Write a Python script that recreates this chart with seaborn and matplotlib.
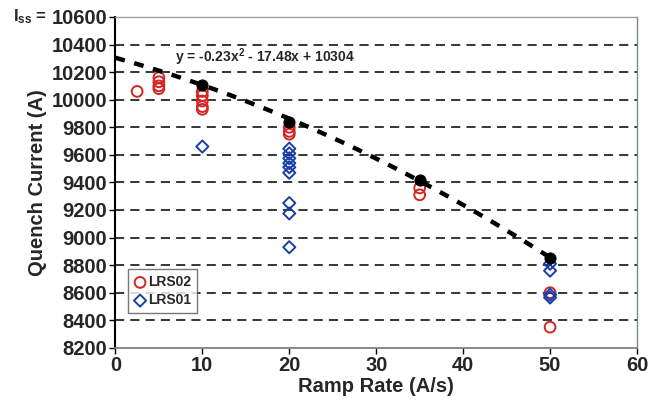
import numpy as np
import pandas as pd
import seaborn as sns
import matplotlib.pyplot as plt

# --- data ---
lrs02_x = [2.5, 5, 5, 5, 5, 10, 10, 10, 10, 10, 20, 20, 20, 35, 35, 50, 50]
lrs02_y = [10060, 10160, 10130, 10100, 10080, 10060, 10030, 9990, 9950, 9930,
           9800, 9770, 9750, 9360, 9310, 8600, 8350]

lrs01_x = [10, 20, 20, 20, 20, 20, 20, 20, 20, 20, 50, 50, 50, 50]
lrs01_y = [9660, 9645, 9610, 9575, 9540, 9510, 9470, 9250, 9175, 8930,
           8810, 8760, 8585, 8565]

iss_x = [10, 20, 35, 50]
iss_y = [10105, 9840, 9415, 8855]

# quadratic trendline coefficients (a, b, c) as printed on the chart
fit_coef = [-0.23, -17.48, 10304]
fit_range = [0, 50]

y_ticks = list(range(8200, 10601, 200))
x_ticks = list(range(0, 61, 10))

sns.set_style("white")
plt.rcParams['font.family'] = ['Liberation Sans', 'DejaVu Sans']
plt.rcParams['font.weight'] = 'bold'
plt.rcParams['mathtext.fontset'] = 'custom'
plt.rcParams['mathtext.rm'] = 'Liberation Sans:bold'
plt.rcParams['mathtext.it'] = 'Liberation Sans:bold'
plt.rcParams['mathtext.bf'] = 'Liberation Sans:bold'

df = pd.concat([
    pd.DataFrame({'rate': lrs02_x, 'current': lrs02_y, 'sample': 'LRS02'}),
    pd.DataFrame({'rate': lrs01_x, 'current': lrs01_y, 'sample': 'LRS01'}),
])

fig = plt.figure(figsize=(6.52, 4.04), dpi=100)
ax = fig.add_axes([0.177, 0.139, 0.800, 0.819])

# dashed horizontal grid
for yv in y_ticks[1:-1]:
    ax.axhline(yv, color='black', lw=1.1, ls=(0, (6, 4)), zorder=0)

red = '#d42424'
blue = '#1a3fa8'
sns.scatterplot(data=df[df['sample'] == 'LRS02'], x='rate', y='current',
                marker='o', s=60, facecolors='none', edgecolor=red,
                linewidth=1.4, ax=ax, zorder=3, label='LRS02')
sns.scatterplot(data=df[df['sample'] == 'LRS01'], x='rate', y='current',
                marker='D', s=38, facecolors='none', edgecolor=blue,
                linewidth=1.4, ax=ax, zorder=4, label='LRS01')

# trendline from the printed polynomial
xs = np.linspace(fit_range[0], fit_range[1], 200)
ax.plot(xs, np.polyval(fit_coef, xs), color='black', lw=3.2,
        ls=(0, (2.2, 2.2)), zorder=5)
sns.scatterplot(x=iss_x, y=iss_y, color='black', s=65, edgecolor='black',
                ax=ax, zorder=6, legend=False)

ax.text(6.8, 10305, r"y = -0.23x$^2$ - 17.48x + 10304", fontsize=10,
        fontweight='bold', ha='left', va='center', zorder=7)

ax.set_xlim(0, 60)
ax.set_ylim(8200, 10600)
ax.set_xticks(x_ticks)
ax.set_yticks(y_ticks)
ax.tick_params(axis='both', labelsize=14.5, direction='out', length=4,
               width=1, color='black', bottom=True, left=True)
ax.tick_params(axis='x', pad=2)
ax.tick_params(axis='y', pad=2)
for lab in ax.get_xticklabels() + ax.get_yticklabels():
    lab.set_fontweight('bold')

ax.set_xlabel('Ramp Rate (A/s)', fontsize=14.5, fontweight='bold', labelpad=1)
ax.set_ylabel('Quench Current (A)', fontsize=14.5, fontweight='bold', labelpad=3)

ax.spines['left'].set_color('black')
ax.spines['left'].set_linewidth(1.5)
ax.spines['bottom'].set_color('#808080')
ax.spines['bottom'].set_linewidth(1.3)
ax.spines['top'].set_color('#a0a0a0')
ax.spines['top'].set_linewidth(1.0)
ax.spines['right'].set_color('#7a8a8a')
ax.spines['right'].set_linewidth(1.0)

ax.text(-0.132, 1.0, r"I$_{\mathrm{ss}}$ =", transform=ax.transAxes,
        fontsize=12, fontweight='bold', ha='right', va='center')

leg = ax.legend(loc='lower left', bbox_to_anchor=(0.01, 0.085), fontsize=10,
                frameon=True, fancybox=False, handletextpad=0.1,
                handlelength=1.0, borderpad=0.4, labelspacing=0.3)
leg.get_frame().set_edgecolor('#555555')
leg.get_frame().set_linewidth(1.0)
for t in leg.get_texts():
    t.set_fontweight('bold')

fig.savefig('out.png', dpi=100)
